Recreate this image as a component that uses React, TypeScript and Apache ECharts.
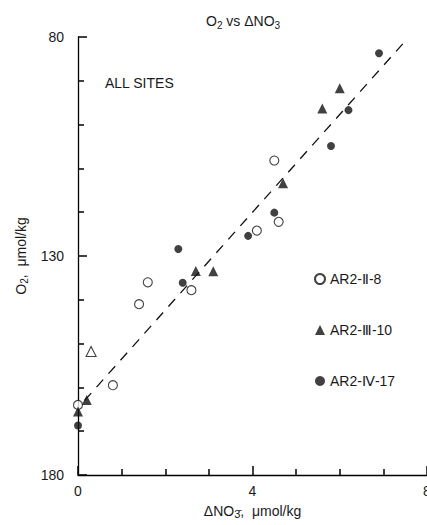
import React, { useEffect, useRef } from 'react';
import * as echarts from 'echarts';

const seriesNames = ['AR2-Ⅱ-8', 'AR2-Ⅲ-10', 'AR2-Ⅳ-17'];
const xTicks = [0, 4, 8];
const yTicks = [80, 130, 180];

// [ΔNO3, O2]
const site2Points = [
  [0, 164], [0.8, 159.5], [1.4, 141], [1.6, 136], [2.6, 137.8], [4.1, 124.2], [4.6, 122.2], [4.5, 108.2],
];
const site3Points = [
  [0, 165.5], [0.2, 162.9], [2.7, 133.4], [3.1, 133.5], [4.7, 113.4], [5.6, 96.3], [6.0, 91.7],
];
const site4Points = [
  [0, 168.7], [2.3, 128.4], [2.4, 136.1], [3.9, 125.4], [4.5, 120.1], [5.8, 104.9], [6.2, 96.7], [6.9, 83.7],
];
const flaggedPoints = [[0.3, 151.8]];
const fitLine = [[0.15, 163], [7.45, 81.5]];

const FONT = 'Liberation Sans';
const INK = 'black';
const TXT = '#1a1a1a';

export default function App() {
  const ref = useRef<HTMLDivElement>(null);
  useEffect(() => {
    const chart = echarts.init(ref.current!, null, { renderer: 'svg' });
    chart.setOption({
      animation: false,
      backgroundColor: '#fff',
      title: {
        text: 'O{sub|2} vs ΔNO{sub|3}',
        left: 201,
        top: 7,
        textStyle: {
          fontFamily: FONT, fontSize: 14, fontWeight: 'normal', color: TXT,
          rich: { sub: { fontFamily: FONT, fontSize: 10, color: TXT, padding: [8, 0, 0, 0] } },
        },
      },
      grid: { left: 78, right: 0, top: 37, bottom: 50, outerBoundsMode: 'none', containLabel: false },
      legend: {
        data: seriesNames,
        orient: 'vertical',
        left: 309,
        top: 267,
        itemGap: 37,
        itemWidth: 10,
        itemHeight: 10,
        textStyle: { fontFamily: FONT, fontSize: 14, color: TXT, lineHeight: 14 },
      },
      xAxis: {
        type: 'value',
        min: 0,
        max: 8,
        interval: 4,
        name: 'ΔNO{sub|3̄},  μmol/kg',
        nameLocation: 'middle',
        nameGap: 28,
        nameTextStyle: {
          fontFamily: FONT, fontSize: 14, color: TXT, lineHeight: 16,
          rich: { sub: { fontFamily: FONT, fontSize: 11, color: TXT, padding: [5, 0, 0, 0] } },
        },
        axisLine: { show: true, lineStyle: { color: INK, width: 1.3 } },
        axisTick: { show: true, inside: true, length: 9, lineStyle: { color: 'black', width: 1.5 } },
        minorTick: { show: true, splitNumber: 4, length: 6, lineStyle: { color: 'black', width: 1.5 } },
        axisLabel: {
          fontFamily: FONT, fontSize: 14, color: TXT, margin: 9,
          formatter: (v: number) => (xTicks.includes(v) ? String(v) : ''),
        },
        splitLine: { show: false },
      },
      yAxis: {
        type: 'value',
        inverse: true,
        min: 80,
        max: 180,
        interval: 50,
        name: 'O{sub|2},  μmol/kg',
        nameLocation: 'middle',
        nameGap: 46,
        nameRotate: 90,
        nameTextStyle: {
          fontFamily: FONT, fontSize: 14, color: TXT,
          rich: { sub: { fontFamily: FONT, fontSize: 10, color: TXT, padding: [8, 0, 0, 0] } },
        },
        axisLine: { show: true, lineStyle: { color: INK, width: 1.3 } },
        axisTick: { show: true, inside: true, length: 9, lineStyle: { color: 'black', width: 1.5 } },
        minorTick: { show: true, splitNumber: 5, length: 6, lineStyle: { color: 'black', width: 1.5 } },
        axisLabel: {
          fontFamily: FONT, fontSize: 14, color: TXT, margin: 14,
          formatter: (v: number) => (yTicks.includes(v) ? String(v) : ''),
        },
        splitLine: { show: false },
      },
      graphic: [
        {
          type: 'text',
          left: 105,
          top: 76,
          style: { text: 'ALL SITES', fontFamily: FONT, fontSize: 14, fill: TXT },
        },
      ],
      series: [
        {
          name: 'fit',
          type: 'line',
          data: fitLine,
          symbol: 'none',
          lineStyle: { color: '#111', width: 1.3, type: [10, 8] },
          z: 1,
        },
        {
          name: seriesNames[0],
          type: 'scatter',
          data: site2Points,
          symbol: 'circle',
          symbolSize: 9,
          itemStyle: { color: '#fff', borderColor: '#111', borderWidth: 1.1 },
          z: 3,
        },
        {
          name: seriesNames[1],
          type: 'scatter',
          data: site3Points,
          symbol: 'triangle',
          symbolSize: 10,
          itemStyle: { color: '#111' },
          z: 3,
        },
        {
          name: seriesNames[2],
          type: 'scatter',
          data: site4Points,
          symbol: 'circle',
          symbolSize: 8,
          itemStyle: { color: '#111' },
          z: 3,
        },
        {
          name: 'flagged',
          type: 'scatter',
          data: flaggedPoints,
          symbol: 'triangle',
          symbolSize: 10,
          itemStyle: { color: '#fff', borderColor: '#111', borderWidth: 1.1 },
          z: 3,
        },
      ],
    });
    return () => chart.dispose();
  }, []);
  return (
    <div
      ref={ref}
      style={{ position: 'absolute', left: 0, top: 0, width: 427, height: 525 }}
    />
  );
}
